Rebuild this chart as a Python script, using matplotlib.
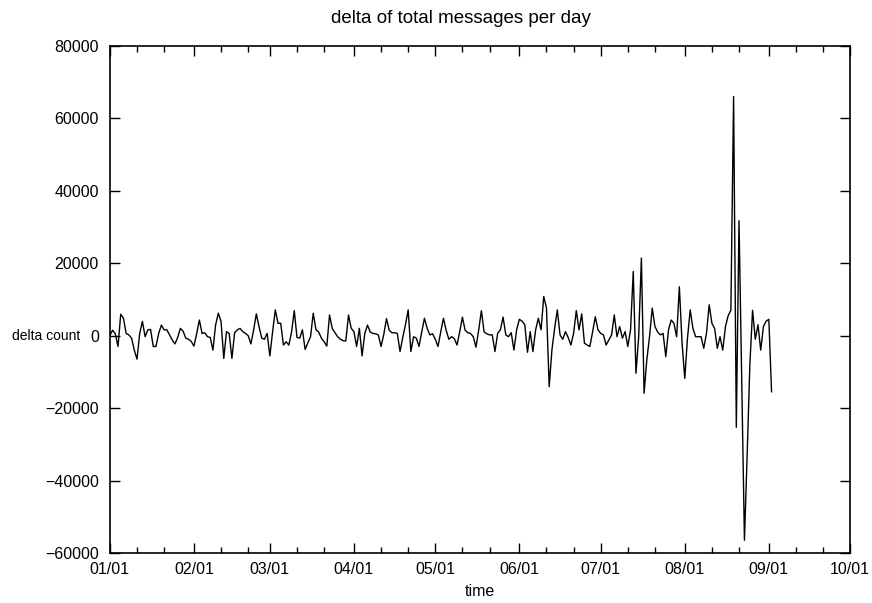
import matplotlib

matplotlib.use("Agg")
import matplotlib.pyplot as plt
import matplotlib.dates as mdates
import pandas as pd

plt.rcParams["font.family"] = ["Liberation Sans", "DejaVu Sans"]

# daily delta of total messages (one value per day from 01/01)
delta = [
    0, 1500, 500, -3000, 5900, 4800, 600, 200, -700, -4000,
    -6500, 600, 3900, -300, 1600, 1700, -3000, -3000, 600, 2900,
    1600, 1600, 200, -1200, -2300, -500, 2000, 1200, -700, -1000,
    -1600, -2900, 500, 4300, 600, 800, -300, -500, -4000, 3000,
    6200, 3900, -6300, 1100, 600, -6300, 800, 1600, 2000, 1100,
    600, 0, -2300, 1500, 6000, 2500, -700, -1000, 600, -5600,
    1000, 7100, 3400, 3400, -2600, -1700, -2600, 1000, 6900, -500,
    -700, 1600, -3800, -2000, -300, 6200, 1600, 1000, -700, -1700,
    -2900, 5700, 2000, 800, -300, -1000, -1400, -1500, 5700, 2000,
    1100, -3000, 2000, -5600, 600, 2900, 1000, 600, 500, 200,
    -3000, 300, 4700, 1500, 800, 800, 600, -4400, -500, 3000,
    7100, -4400, -300, -700, -3000, 1000, 4800, 2000, 200, 500,
    -1000, -3000, 1000, 4800, 1500, -1000, -300, -800, -2600, 1000,
    5100, 1500, 800, 600, -300, -3200, 1500, 6900, 1000, 500,
    200, 200, -4400, 600, 1600, 5100, 200, -300, 800, -4000,
    1600, 4500, 4000, 3000, -4600, 1100, -4400, 1600, 4800, 1600,
    10800, 7600, -14100, -4000, 2000, 7100, 200, -1000, 1100, -500,
    -2600, 600, 6900, 1600, 6000, -2100, -2600, -3000, 1000, 5200,
    1600, 600, 200, -2600, -1200, 200, 5700, -300, 2500, -700,
    1100, -3000, 1600, 17700, -10400, -300, 21400, -15900, -6700, -300,
    7600, 2500, 1000, 200, 600, -5800, 1600, 4300, 3400, -300,
    13500, -2100, -11800, -700, 7100, 2000, -300, -300, -300, -3500,
    600, 8500, 3400, 2000, -3500, -300, -4000, 2500, 5500, 7000,
    66000, -25300, 31700, -12000, -56500, -33000, -8000, 7000, -1000, 3000,
    -4000, 2500, 4000, 4500, -15500,
]
start_date = "2006-01-01"
x_start, x_end = "2006-01-01", "2006-10-01"
y_ticks = [-60000, -40000, -20000, 0, 20000, 40000, 60000, 80000]

days = pd.date_range(start_date, periods=len(delta), freq="D")

fig = plt.figure(figsize=(8.72, 6.03), dpi=100)
ax = fig.add_axes([0.126, 0.083, 0.849, 0.841])

ax.plot(days, delta, color="black", lw=1.0)

ax.set_xlim(pd.Timestamp(x_start), pd.Timestamp(x_end))
ax.set_ylim(-60000, 80000)
ax.set_yticks(y_ticks)
ax.xaxis.set_major_locator(mdates.MonthLocator())
ax.xaxis.set_major_formatter(mdates.DateFormatter("%m/%d"))
ax.xaxis.set_minor_locator(mdates.DayLocator(bymonthday=[11, 21]))

ax.tick_params(which="both", direction="in", top=True, right=True,
               labelsize=11.5, width=1.0)
ax.tick_params(which="major", length=7)
ax.tick_params(which="minor", length=4)
ax.tick_params(axis="x", which="major", pad=6.5)
ax.tick_params(axis="y", which="major", pad=8)
for s in ax.spines.values():
    s.set_linewidth(1.2)

# gnuplot-style title, sits a little left of the plot centre
fig.text(0.529, 0.970, "delta of total messages per day",
         fontsize=13.5, ha="center", va="center")
ax.set_xlabel("time", fontsize=11.5, labelpad=5)
ax.set_ylabel("delta count", fontsize=10, rotation=0, ha="center", va="center")
ax.yaxis.set_label_coords(-0.0865, 0.4286)

fig.savefig("out.png", dpi=100)
